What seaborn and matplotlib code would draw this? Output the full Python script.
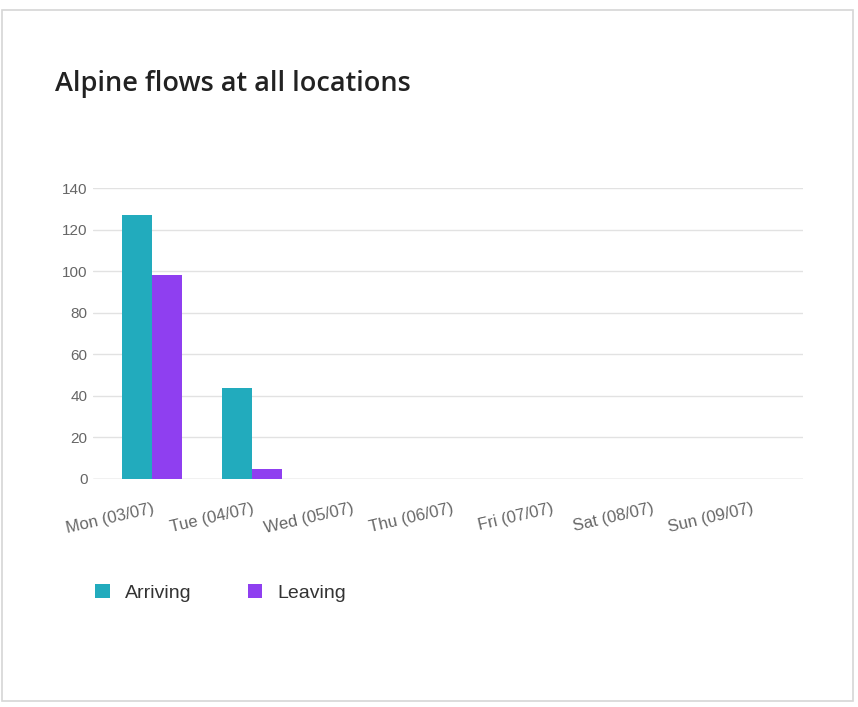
import matplotlib
matplotlib.use("Agg")
import matplotlib.pyplot as plt
from matplotlib.patches import Rectangle, Patch
import pandas as pd
import seaborn as sns

days = ["Mon (03/07)", "Tue (04/07)", "Wed (05/07)", "Thu (06/07)",
        "Fri (07/07)", "Sat (08/07)", "Sun (09/07)"]
arriving = [127, 44, 0, 0, 0, 0, 0]
leaving = [98, 5, 0, 0, 0, 0, 0]
series = ["Arriving", "Leaving"]
colors = ["#22abbd", "#8f3ff0"]
y_ticks = [0, 20, 40, 60, 80, 100, 120, 140]

df = pd.DataFrame({
    "day": days * 2,
    "flow": arriving + leaving,
    "direction": [series[0]] * len(days) + [series[1]] * len(days),
})

sns.set_theme(style="white")
plt.rcParams["font.family"] = ["Liberation Sans", "DejaVu Sans"]

W, H = 858, 707
fig = plt.figure(figsize=(W / 100, H / 100), dpi=100)
fig.patch.set_facecolor("white")

# card outline
fig.add_artist(Rectangle((1.5 / W, 1 - 701 / H), (853 - 1.5) / W, (701 - 9.5) / H,
                         transform=fig.transFigure, fill=False,
                         edgecolor="#d6d6d6", linewidth=1.2))

ax = fig.add_axes([93 / W, 1 - 479 / H, 710 / W, (479 - 188) / H])
sns.barplot(data=df, x="day", y="flow", hue="direction", order=days,
            hue_order=series, palette=colors, width=0.6, saturation=1,
            linewidth=0, ax=ax, legend=False)

ax.set_xlim(-0.59, 6.51)
ax.set_ylim(0, 140)
ax.set_yticks(y_ticks)
ax.set_yticklabels([str(v) for v in y_ticks])
ax.grid(axis="y", color="#e2e2e2", linewidth=1)
ax.set_axisbelow(True)
ax.axhline(0, color="#cfcfcf", linewidth=1, zorder=0)
for s in ax.spines.values():
    s.set_visible(False)
ax.set_xlabel("")
ax.set_ylabel("")
ax.tick_params(axis="both", length=0, labelcolor="#666666")
ax.tick_params(axis="y", pad=4, labelsize=11)
ax.tick_params(axis="x", pad=16, labelsize=12)
for lbl in ax.get_xticklabels():
    lbl.set_rotation(13)
    lbl.set_ha("right")
    lbl.set_va("top")
    lbl.set_rotation_mode("anchor")

fig.text(55 / W, 1 - 91 / H, "Alpine flows at all locations",
         fontsize=19.5, color="#222222", family=["Open Sans", "DejaVu Sans"],
         fontweight="semibold", va="baseline", ha="left")

handles = [Patch(facecolor=c, edgecolor="none") for c in colors]
fig.legend(handles, series, loc="center left",
           bbox_to_anchor=(95 / W, 1 - 593 / H), ncol=2, frameon=False,
           borderaxespad=0, borderpad=0,
           handlelength=0.75, handleheight=0.75, handletextpad=0.77,
           columnspacing=2.9, prop={"size": 14}, labelcolor="#333333")

fig.savefig("out.png", dpi=100, facecolor="white")
